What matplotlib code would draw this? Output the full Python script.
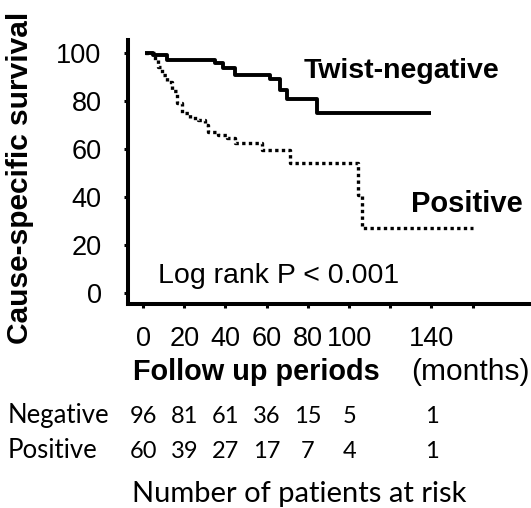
import matplotlib.pyplot as plt

plt.rcParams['font.family'] = ['Liberation Sans', 'DejaVu Sans']

# Kaplan-Meier step points (months, survival %)
neg_t = [1, 5, 11.5, 35, 39, 44.5, 61.5, 66.5, 70, 84.5, 140]
neg_s = [100, 99, 97, 95.8, 93.8, 90.8, 89, 84.6, 81, 75, 75]
pos_t = [1, 5.8, 7.3, 9.2, 11.7, 14, 16.5, 19, 22.8, 26.7, 30, 31.5, 36.4, 40.8,
         44.7, 57.8, 71.4, 104.4, 106.3, 160]
pos_s = [100, 97, 94, 91, 88, 84, 79, 75, 73, 72, 70, 67, 66, 64.6,
         62.5, 59.6, 54, 41, 27, 27]

xticks = [0, 20, 40, 60, 80, 100, 120, 140, 160]
xtick_labels = ['0', '20', '40', '60', '80', '100', '', '140', '']
yticks = [0, 20, 40, 60, 80, 100]

risk_groups = ['Negative', 'Positive']
risk_months = [0, 20, 40, 60, 80, 100, 140]
risk_neg = ['96', '81', '61', '36', '15', '5', '1']
risk_pos = ['60', '39', '27', '17', '7', '4', '1']

W, H = 531, 508
fig = plt.figure(figsize=(W / 100, H / 100), dpi=100)
ax = fig.add_axes([128 / W, 1 - 304 / H, (W - 128) / W, (304 - 40) / H])

ax.step(neg_t, neg_s, where='post', color='black', lw=2.8, solid_capstyle='butt')
ax.step(pos_t, pos_s, where='post', color='black', lw=2.4,
        linestyle=(0, (1, 1)), dash_capstyle='butt')

ax.set_xlim(-7.3, 188.3)
ax.set_ylim(-4.6, 105.4)
ax.set_xticks(xticks)
ax.set_xticklabels(xtick_labels)
ax.set_yticks(yticks)
for s in ['top', 'right']:
    ax.spines[s].set_visible(False)
for s in ['left', 'bottom']:
    ax.spines[s].set_linewidth(2.9)
ax.tick_params(axis='both', direction='out', length=3, width=2.2, labelsize=19.5)
ax.tick_params(axis='x', pad=13)
ax.tick_params(axis='y', pad=16)


def ftext(x, y, s, **kw):
    fig.text(x / W, 1 - y / H, s, **kw)


ftext(20, 178, 'Cause-specific survival', fontsize=21.5, fontweight='bold',
      rotation=90, ha='center', va='center')
ftext(304, 78, 'Twist-negative', fontsize=20.5, fontweight='bold')
ftext(523, 212, 'Positive', fontsize=21, fontweight='bold', ha='right')
ftext(158, 283, 'Log rank P < 0.001', fontsize=20.5)
ftext(133, 380, 'Follow up periods', fontsize=20.8, fontweight='bold')
ftext(530, 380, '(months)', fontsize=21.5, ha='right')

# risk table, numbers placed under the matching months
for name, row, y in zip(risk_groups, [risk_neg, risk_pos], [423, 458]):
    ftext(8, y, name, fontsize=18.5, family=['Lato', 'DejaVu Sans'])
    for m, v in zip(risk_months, row):
        ax.annotate(v, xy=(m, 0), xycoords=('data', 'figure fraction'),
                    xytext=(0, (H - y) * 0.72), textcoords='offset points',
                    ha='center', va='baseline', fontsize=17,
                    family=['Lato', 'DejaVu Sans'], annotation_clip=False)
ftext(132, 502, 'Number of patients at risk', fontsize=21, family=['Lato', 'DejaVu Sans'])

fig.savefig('out.png', dpi=100)
